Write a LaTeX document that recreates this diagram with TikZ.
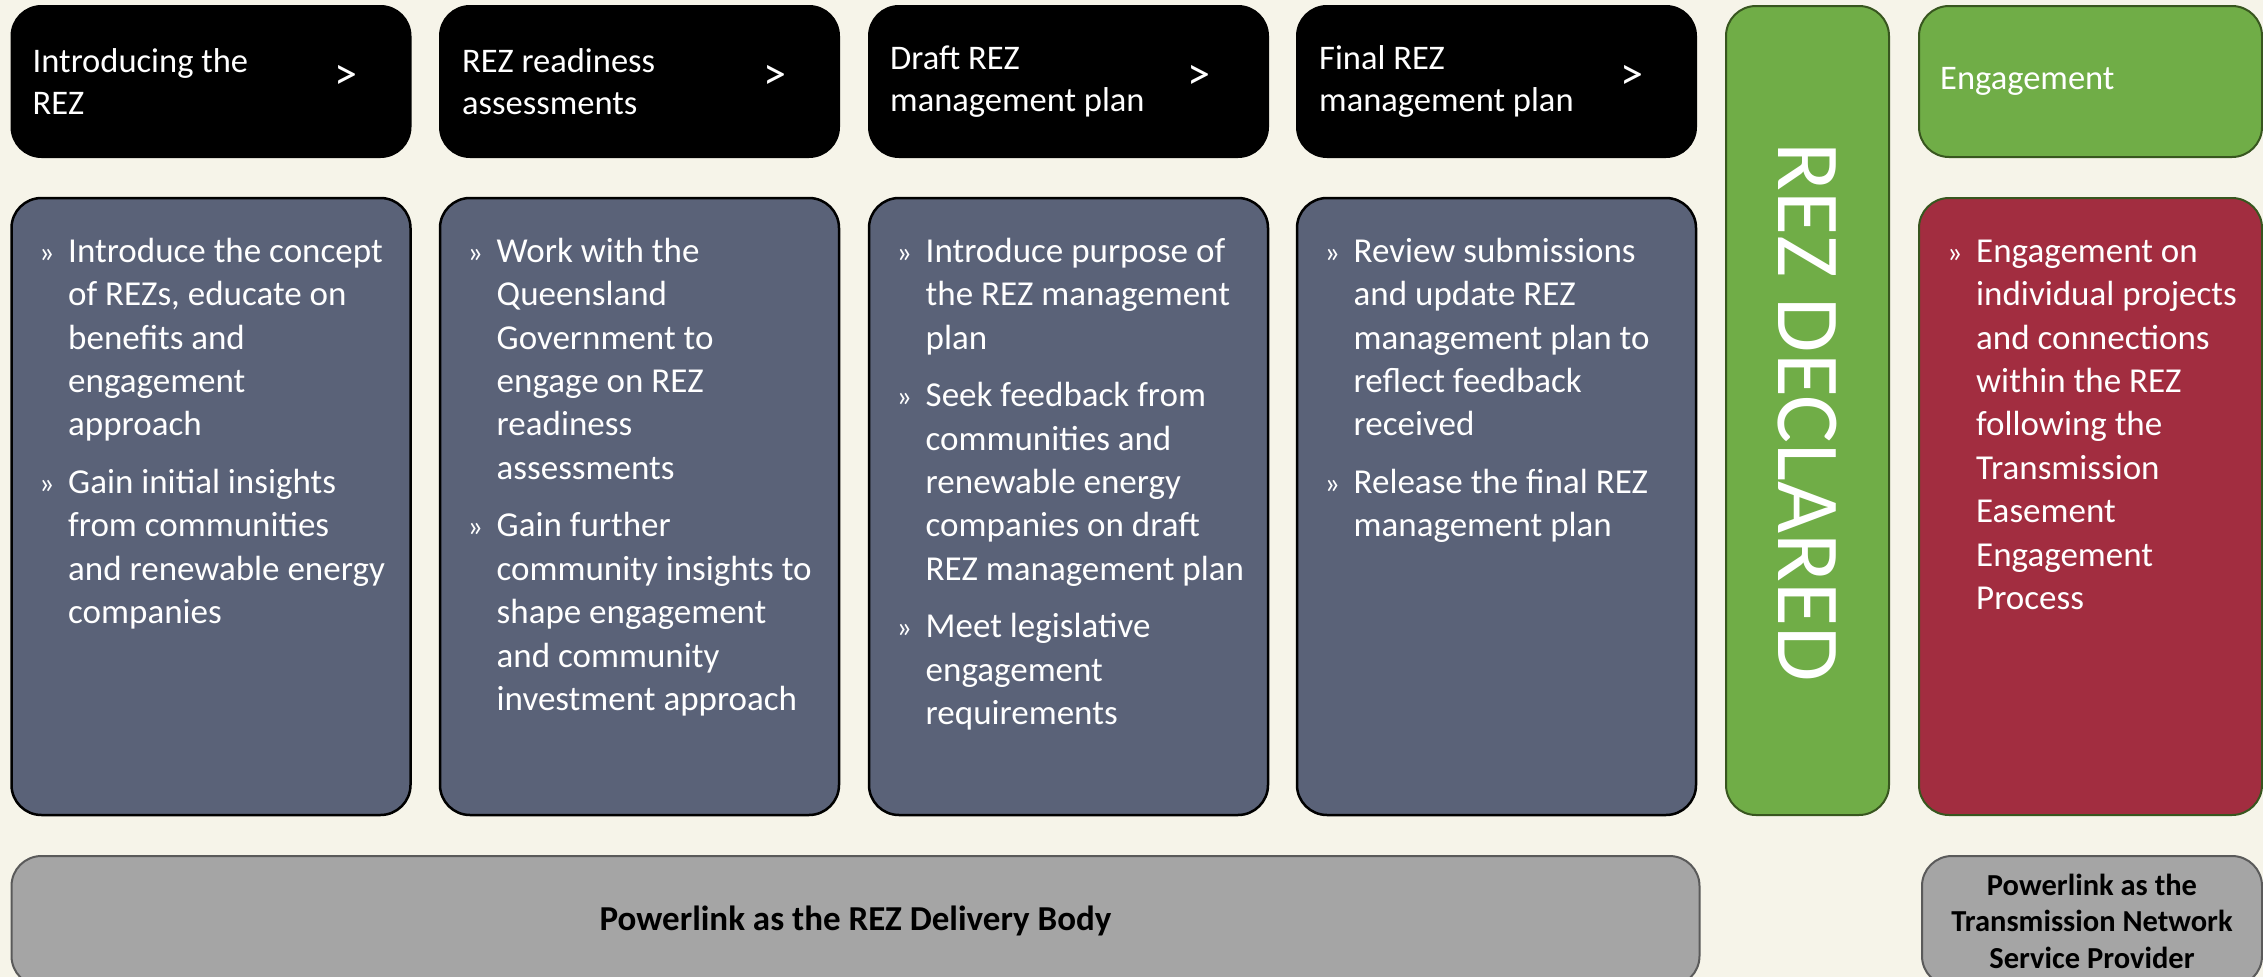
\documentclass[tikz,border=0pt]{standalone}
\usepackage{fontspec}
\setmainfont{Carlito}
\definecolor{bgc}{HTML}{F6F4E9}
\definecolor{slate}{HTML}{5A6278}
\definecolor{rezgreen}{HTML}{70AD47}
\definecolor{dkgreen}{HTML}{38561F}
\definecolor{rezred}{HTML}{A22D40}
\definecolor{rezgray}{HTML}{A5A5A5}
\definecolor{grayline}{HTML}{5A5A5A}
\newcommand\bul[1]{\par\hangindent=29pt\hangafter=1\noindent\makebox[29pt][l]{\fontsize{30}{43.4}\selectfont »}#1\par}
\newcommand\bodytext[1]{\begin{minipage}[t]{420pt}\raggedright\let\\\newline\setlength\parskip{14.1pt}\fontsize{35}{43.4}\selectfont #1\end{minipage}}
\begin{document}
\begin{tikzpicture}[x=1pt,y=-1pt,
  box/.style={rounded corners=30pt, inner sep=0pt, outer sep=0pt, anchor=north west},
  hdr/.style={box, fill=black, draw=black, line width=2pt, minimum width=399pt, minimum height=151pt},
  bodybox/.style={box, fill=slate, draw=black, line width=2.5pt, minimum width=399pt, minimum height=617pt},
  greenbox/.style={box, fill=rezgreen, draw=dkgreen, line width=2pt},
  redbox/.style={box, fill=rezred, draw=dkgreen, line width=2pt},
  graybox/.style={box, fill=rezgray, draw=grayline, line width=2pt},
  hdrtxt/.style={text=white, inner sep=0pt, anchor=west, align=left, font=\fontsize{34.5}{42}\selectfont},
  arrtxt/.style={text=white, inner sep=0pt, anchor=center, font=\fontsize{46}{50}\selectfont},
  bodytxt/.style={text=white, inner sep=0pt, anchor=base west},
  boldtxt/.style={text=black, inner sep=0pt, align=center}
]
\useasboundingbox[fill=bgc] (0,0) rectangle (2263,977);

% header boxes
\node[hdr] (h1) at (11.5,6) {};
\node[hdr] (h2) at (440,6) {};
\node[hdr] (h3) at (869,6) {};
\node[hdr] (h4) at (1297,6) {};
\node[greenbox, minimum width=343pt, minimum height=151pt] (eng) at (1919,6) {};

% body boxes
\node[bodybox] (b1) at (11.5,198) {};
\node[bodybox] (b2) at (440,198) {};
\node[bodybox] (b3) at (869,198) {};
\node[bodybox] (b4) at (1297,198) {};
\node[greenbox, minimum width=163pt, minimum height=809pt] (rez) at (1726,6) {};
\node[redbox, minimum width=343pt, minimum height=617pt] (red) at (1919,198) {};

% bottom boxes
\node[graybox, minimum width=1688pt, minimum height=130pt] (g1) at (11.5,856) {};
\node[graybox, minimum width=340pt, minimum height=130pt] (g2) at (1922,856) {};

% header texts
\node[hdrtxt, xshift=21pt] (h1t) at (h1.west) {Introducing the\\REZ};
\node[hdrtxt, xshift=22pt] (h2t) at (h2.west) {REZ readiness\\assessments};
\node[hdrtxt, xshift=21pt] (h3t) at (h3.west) {Draft REZ\\management plan};
\node[hdrtxt, xshift=22pt] (h4t) at (h4.west) {Final REZ\\management plan};
\node[hdrtxt, xshift=21pt] (engt) at (eng.west) {Engagement};

\node[arrtxt, xshift=334pt, yshift=-71pt] (a1) at (h1.north west) {>};
\node[arrtxt, xshift=335pt, yshift=-71pt] (a2) at (h2.north west) {>};
\node[arrtxt, xshift=330pt, yshift=-71pt] (a3) at (h3.north west) {>};
\node[arrtxt, xshift=335pt, yshift=-71pt] (a4) at (h4.north west) {>};

% body texts
\node[bodytxt, xshift=27.5pt, yshift=-64.3pt] (b1t) at (b1.north west) {\bodytext{%
\bul{Introduce the concept\\of REZs, educate on\\benefits and\\engagement\\approach}
\bul{Gain initial insights\\from communities\\and renewable energy\\companies}}};
\node[bodytxt, xshift=27.5pt, yshift=-64.3pt] (b2t) at (b2.north west) {\bodytext{%
\bul{Work with the\\Queensland\\Government to\\engage on REZ\\readiness\\assessments}
\bul{Gain further\\community insights to\\shape engagement\\and community\\investment approach}}};
\node[bodytxt, xshift=27.5pt, yshift=-64.3pt] (b3t) at (b3.north west) {\bodytext{%
\bul{Introduce purpose of\\the REZ management\\plan}
\bul{Seek feedback from\\communities and\\renewable energy\\companies on draft\\REZ management plan}
\bul{Meet legislative\\engagement\\requirements}}};
\node[bodytxt, xshift=27.5pt, yshift=-64.3pt] (b4t) at (b4.north west) {\bodytext{%
\bul{Review submissions\\and update REZ\\management plan to\\reflect feedback\\received}
\bul{Release the final REZ\\management plan}}};
\node[bodytxt, xshift=28pt, yshift=-64.3pt] (redt) at (red.north west) {\bodytext{%
\bul{Engagement on\\individual projects\\and connections\\within the REZ\\following the\\Transmission\\Easement\\Engagement\\Process}}};

% REZ declared
\node[text=white, inner sep=0pt, rotate=-90, font=\fontsize{90}{100}\selectfont, xshift=2pt] (rezt) at (rez.center) {REZ DECLARED};

% bottom texts
\node[boldtxt, font=\bfseries\fontsize{35}{42}\selectfont] (g1t) at (g1.center) {Powerlink as the REZ Delivery Body};
\node[boldtxt, font=\bfseries\fontsize{30.5}{36.5}\selectfont] (g2t) at (g2.center) {Powerlink as the\\Transmission Network\\Service Provider};
\end{tikzpicture}
\end{document}
